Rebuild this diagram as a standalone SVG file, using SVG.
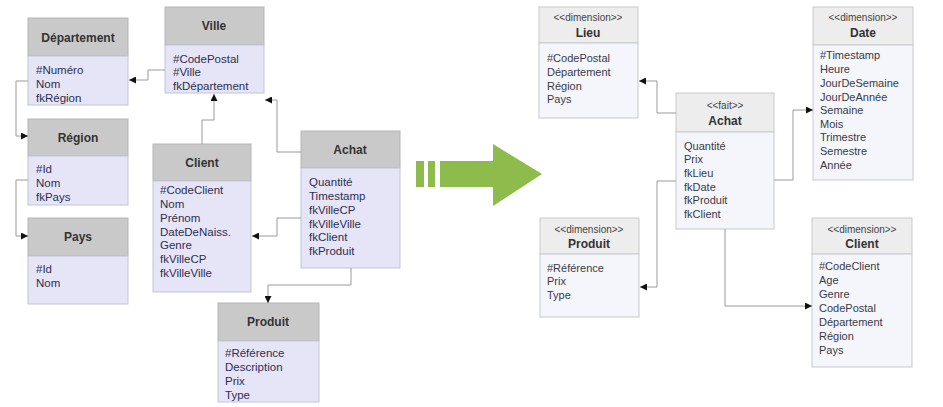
<svg xmlns="http://www.w3.org/2000/svg" width="943" height="407" viewBox="0 0 943 407">
<defs>
<marker id="ah" viewBox="0 0 10 10" refX="10" refY="5" markerWidth="7" markerHeight="7" orient="auto" markerUnits="userSpaceOnUse">
<path d="M0,0 L10,5 L0,10 z" fill="#111"/>
</marker>
<style>
.lh{fill:#c9c9c9;stroke:#b5b5b5;stroke-width:1}
.lb{fill:#e5e5f7;stroke:#c4c4d8;stroke-width:1}
.rh{fill:#ededed;stroke:#c9c9c9;stroke-width:1}
.rb{fill:#f4f6fc;stroke:#c9c9c9;stroke-width:1}
.t{font-family:"Liberation Sans",Arial,sans-serif;font-size:11.5px;fill:#2e2e52}
.tr{font-family:"Liberation Sans",Arial,sans-serif;font-size:11px;fill:#3a3a44}
.h{font-family:"Liberation Sans",Arial,sans-serif;font-size:12px;font-weight:bold;fill:#333;text-anchor:middle}
.st{font-family:"Liberation Sans",Arial,sans-serif;font-size:10px;fill:#444;text-anchor:middle}
.c{fill:none;stroke:#9a9a9a;stroke-width:1;marker-end:url(#ah)}
</style>
</defs>
<rect width="943" height="407" fill="#fff"/>

<g id="departement">
<rect class="lh" x="28" y="18" width="100" height="38"/>
<rect class="lb" x="28" y="56" width="100" height="49"/>
<text class="h" x="78" y="42">Département</text>
<text class="t" x="36" y="74">#Numéro</text>
<text class="t" x="36" y="88">Nom</text>
<text class="t" x="36" y="102">fkRégion</text>
</g>

<g id="ville">
<rect class="lh" x="165" y="7" width="99" height="38"/>
<rect class="lb" x="165" y="45" width="99" height="48"/>
<text class="h" x="214" y="30">Ville</text>
<text class="t" x="173" y="63">#CodePostal</text>
<text class="t" x="173" y="76">#Ville</text>
<text class="t" x="173" y="90">fkDépartement</text>
</g>

<g id="region">
<rect class="lh" x="28" y="119" width="100" height="37"/>
<rect class="lb" x="28" y="156" width="100" height="49"/>
<text class="h" x="78" y="142">Région</text>
<text class="t" x="36" y="173">#Id</text>
<text class="t" x="36" y="187">Nom</text>
<text class="t" x="36" y="201">fkPays</text>
</g>

<g id="pays">
<rect class="lh" x="28" y="218" width="100" height="38"/>
<rect class="lb" x="28" y="256" width="100" height="48"/>
<text class="h" x="78" y="241">Pays</text>
<text class="t" x="36" y="273">#Id</text>
<text class="t" x="36" y="287">Nom</text>
</g>

<g id="client">
<rect class="lh" x="153" y="144" width="98" height="37"/>
<rect class="lb" x="153" y="181" width="98" height="111"/>
<text class="h" x="202" y="167">Client</text>
<text class="t" x="160" y="194">#CodeClient</text>
<text class="t" x="160" y="208">Nom</text>
<text class="t" x="160" y="222">Prénom</text>
<text class="t" x="160" y="236">DateDeNaiss.</text>
<text class="t" x="160" y="249">Genre</text>
<text class="t" x="160" y="263">fkVilleCP</text>
<text class="t" x="160" y="277">fkVilleVille</text>
</g>

<g id="achat">
<rect class="lh" x="301" y="131" width="99" height="37"/>
<rect class="lb" x="301" y="168" width="99" height="100"/>
<text class="h" x="350" y="154">Achat</text>
<text class="t" x="309" y="186">Quantité</text>
<text class="t" x="309" y="200">Timestamp</text>
<text class="t" x="309" y="214">fkVilleCP</text>
<text class="t" x="309" y="228">fkVilleVille</text>
<text class="t" x="309" y="241">fkClient</text>
<text class="t" x="309" y="255">fkProduit</text>
</g>

<g id="produit">
<rect class="lh" x="218" y="303" width="101" height="38"/>
<rect class="lb" x="218" y="341" width="101" height="61"/>
<text class="h" x="268" y="326">Produit</text>
<text class="t" x="225" y="357">#Référence</text>
<text class="t" x="225" y="371">Description</text>
<text class="t" x="225" y="385">Prix</text>
<text class="t" x="225" y="399">Type</text>
</g>

<g id="transform-arrow" fill="#8dbb4c">
<rect x="416" y="161" width="8" height="26"/>
<rect x="428" y="161" width="7" height="26"/>
<rect x="440" y="161" width="54" height="26"/>
<polygon points="493,144 542,174 493,206"/>
</g>

<g id="lieu">
<rect class="rh" x="539" y="7" width="99" height="36"/>
<rect class="rb" x="539" y="43" width="99" height="75"/>
<text class="st" x="588" y="21">&lt;&lt;dimension&gt;&gt;</text>
<text class="h" x="588" y="37">Lieu</text>
<text class="tr" x="547" y="62">#CodePostal</text>
<text class="tr" x="547" y="76">Département</text>
<text class="tr" x="547" y="90">Région</text>
<text class="tr" x="547" y="103">Pays</text>
</g>

<g id="fait-achat">
<rect class="rh" x="676" y="93" width="98" height="39"/>
<rect class="rb" x="676" y="132" width="98" height="97"/>
<text class="st" x="725" y="109">&lt;&lt;fait&gt;&gt;</text>
<text class="h" x="725" y="125">Achat</text>
<text class="tr" x="684" y="150">Quantité</text>
<text class="tr" x="684" y="163">Prix</text>
<text class="tr" x="684" y="177">fkLieu</text>
<text class="tr" x="684" y="191">fkDate</text>
<text class="tr" x="684" y="204">fkProduit</text>
<text class="tr" x="684" y="218">fkClient</text>
</g>

<g id="date">
<rect class="rh" x="813" y="7" width="100" height="38"/>
<rect class="rb" x="813" y="45" width="100" height="135"/>
<text class="st" x="863" y="21">&lt;&lt;dimension&gt;&gt;</text>
<text class="h" x="863" y="37">Date</text>
<text class="tr" x="820" y="59">#Timestamp</text>
<text class="tr" x="820" y="73">Heure</text>
<text class="tr" x="820" y="87">JourDeSemaine</text>
<text class="tr" x="820" y="101">JourDeAnnée</text>
<text class="tr" x="820" y="114">Semaine</text>
<text class="tr" x="820" y="128">Mois</text>
<text class="tr" x="820" y="141">Trimestre</text>
<text class="tr" x="820" y="155">Semestre</text>
<text class="tr" x="820" y="169">Année</text>
</g>

<g id="produit-dim">
<rect class="rh" x="540" y="218" width="99" height="36"/>
<rect class="rb" x="540" y="254" width="99" height="63"/>
<text class="st" x="589" y="233">&lt;&lt;dimension&gt;&gt;</text>
<text class="h" x="589" y="248">Produit</text>
<text class="tr" x="547" y="272">#Référence</text>
<text class="tr" x="547" y="285">Prix</text>
<text class="tr" x="547" y="299">Type</text>
</g>

<g id="client-dim">
<rect class="rh" x="812" y="218" width="100" height="36"/>
<rect class="rb" x="812" y="254" width="100" height="113"/>
<text class="st" x="862" y="233">&lt;&lt;dimension&gt;&gt;</text>
<text class="h" x="862" y="248">Client</text>
<text class="tr" x="819" y="270">#CodeClient</text>
<text class="tr" x="819" y="284">Age</text>
<text class="tr" x="819" y="298">Genre</text>
<text class="tr" x="819" y="312">CodePostal</text>
<text class="tr" x="819" y="326">Département</text>
<text class="tr" x="819" y="340">Région</text>
<text class="tr" x="819" y="354">Pays</text>
</g>

<g id="connectors">
<polyline class="c" points="165,70 148,70 148,80 129,80"/>
<polyline class="c" points="28,81 16,81 16,136 28,136"/>
<polyline class="c" points="28,180 16,180 16,236 28,236"/>
<polyline class="c" points="202,144 202,120 214,120 214,94"/>
<polyline class="c" points="301,152 277,152 277,100 265,100"/>
<polyline class="c" points="301,218 277,218 277,236 252,236"/>
<polyline class="c" points="351,268 351,285 268,285 268,303"/>
<polyline class="c" points="676,113 657,113 657,81 639,81"/>
<polyline class="c" points="774,180 793,180 793,110 813,110"/>
<polyline class="c" points="676,181 657,181 657,287 640,287"/>
<polyline class="c" points="725,229 725,306 812,306"/>
</g>
</svg>
